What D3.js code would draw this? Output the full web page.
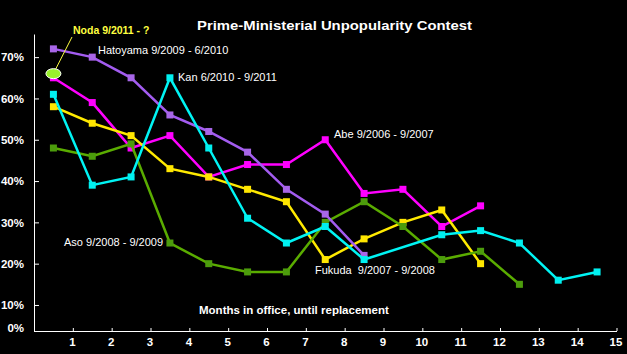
<!doctype html>
<html>
<head>
  <script src="https://cdnjs.cloudflare.com/ajax/libs/d3/7.8.5/d3.min.js"></script>
  <style>
    html, body {
      margin: 0;
      padding: 0;
      background: #000;
    }
    svg {
      display: block;
      font-family: "Liberation Sans", Arial, sans-serif;
    }
    .axis path, .axis line {
      stroke: #fff;
    }
    .axis text {
      fill: #fff;
      font-weight: bold;
      font-size: 11.5px;
      font-family: "Liberation Sans", Arial, sans-serif;
    }
    .tag {
      fill: #fff;
      font-size: 11px;
      white-space: pre;
    }
  </style>
</head>
<body>
  <svg id="chart" width="627" height="354"></svg>
<script>
  // approval-collapse numbers, one value per month in office (month index + 0.5)
  var abe      = [65, 59, 48, 51, 41, 44, 44, 50, 37, 38, 29, 34];
  var fukuda   = [58, 54, 51, 43, 41, 38, 35, 21, 26, 30, 33, 20];
  var aso      = [48, 46, 49, 25, 20, 18, 18, 30, 35, 29, 21, 23, 15];
  var hatoyama = [72, 70, 65, 56, 52, 47, 38, 32, 22];
  var kan      = [61, 39, 41, 65, 48, 31, 25, 29, 21, null, 27, 28, 25, 16, 18];
  var noda     = [66];

  var xTicks = [1, 2, 3, 4, 5, 6, 7, 8, 9, 10, 11, 12, 13, 14, 15];
  var yTicks = [3.7, 10, 20, 30, 40, 50, 60, 70];
  var yTickLabels = ["0%", "10%", "20%", "30%", "40%", "50%", "60%", "70%"];

  var series = [
    {name: "Abe",      values: abe,      color: "#ff00ff", mark: "#ff00ff"},
    {name: "Fukuda",   values: fukuda,   color: "#ffea00", mark: "#ffe600"},
    {name: "Aso",      values: aso,      color: "#5aac00", mark: "#4c9c0c"},
    {name: "Hatoyama", values: hatoyama, color: "#a35cf0", mark: "#a866e8"},
    {name: "Kan",      values: kan,      color: "#00f4f4", mark: "#00f0f0"}
  ];

  var svg = d3.select("#chart");

  svg.append("rect")
    .attr("width", 627)
    .attr("height", 354)
    .attr("fill", "#000");

  var x = d3.scaleLinear().domain([0, 15]).range([34, 616.5]);
  var y = d3.scaleLinear().domain([3.7, 75.6]).range([331, 34]);

  var yAxis = svg.append("g")
    .attr("class", "axis")
    .attr("transform", "translate(34,0)")
    .call(d3.axisLeft(y)
      .tickValues(yTicks)
      .tickFormat(function(d, i) { return yTickLabels[i]; })
      .tickSizeInner(-5)
      .tickSizeOuter(0)
      .tickPadding(10));
  yAxis.selectAll(".tick text")
    .filter(function(d, i) { return i == 0; })
    .attr("y", -3);

  svg.append("g")
    .attr("class", "axis")
    .attr("transform", "translate(0,331)")
    .call(d3.axisBottom(x)
      .tickValues(xTicks)
      .tickFormat(d3.format("d"))
      .tickSizeInner(-3)
      .tickSizeOuter(0)
      .tickPadding(7))
    .selectAll(".tick text")
    .attr("dx", "-1");

  var line = d3.line()
    .defined(function(d) { return d != null; })
    .x(function(d, i) { return x(i + 0.5); })
    .y(function(d) { return y(d); });

  series.forEach(function(s) {
    var pts = s.values
      .map(function(v, i) { return {m: i + 0.5, v: v}; })
      .filter(function(p) { return p.v != null; });
    var g = svg.append("g");
    g.append("path")
      .datum(pts)
      .attr("fill", "none")
      .attr("stroke", s.color)
      .attr("stroke-width", 2.5)
      .attr("d", d3.line()
        .x(function(p) { return x(p.m); })
        .y(function(p) { return y(p.v); }));
    g.selectAll("rect")
      .data(pts)
      .enter().append("rect")
      .attr("x", function(p) { return x(p.m) - 3.5; })
      .attr("y", function(p) { return y(p.v) - 3.5; })
      .attr("width", 7)
      .attr("height", 7)
      .attr("fill", s.mark);
  });

  // Noda callout
  svg.append("line")
    .attr("x1", x(0.5) + 2)
    .attr("y1", y(noda[0]) - 4)
    .attr("x2", 72)
    .attr("y2", 37)
    .attr("stroke", "#ffff40")
    .attr("stroke-width", 1);
  svg.selectAll(".noda")
    .data(noda)
    .enter().append("ellipse")
    .attr("class", "noda")
    .attr("cx", x(0.5))
    .attr("cy", function(d) { return y(d); })
    .attr("rx", 7.5)
    .attr("ry", 5)
    .attr("fill", "#99f02c")
    .attr("stroke", "#fff")
    .attr("stroke-width", 1);
  svg.append("text")
    .attr("x", 73)
    .attr("y", 34)
    .attr("fill", "#ffff40")
    .attr("font-weight", "bold")
    .attr("font-size", "10.5px")
    .text("Noda 9/2011 - ?");

  var tags = [
    ["Hatoyama 9/2009 - 6/2010", 98, 54],
    ["Kan 6/2010 - 9/2011", 178, 81],
    ["Abe 9/2006 - 9/2007", 334, 138],
    ["Aso 9/2008 - 9/2009", 64, 246],
    ["Fukuda  9/2007 - 9/2008", 315, 274]
  ];
  svg.selectAll(".tag")
    .data(tags)
    .enter().append("text")
    .attr("class", "tag")
    .attr("x", function(d) { return d[1]; })
    .attr("y", function(d) { return d[2]; })
    .text(function(d) { return d[0]; });

  svg.append("text")
    .attr("x", 197)
    .attr("y", 30)
    .attr("fill", "#fff")
    .attr("font-weight", "bold")
    .attr("font-size", "13px")
    .attr("textLength", 275)
    .attr("lengthAdjust", "spacingAndGlyphs")
    .text("Prime-Ministerial Unpopularity Contest");

  svg.append("text")
    .attr("x", 199)
    .attr("y", 313.5)
    .attr("fill", "#fff")
    .attr("font-weight", "bold")
    .attr("font-size", "11.5px")
    .text("Months in office, until replacement");
</script>
</body>
</html>
